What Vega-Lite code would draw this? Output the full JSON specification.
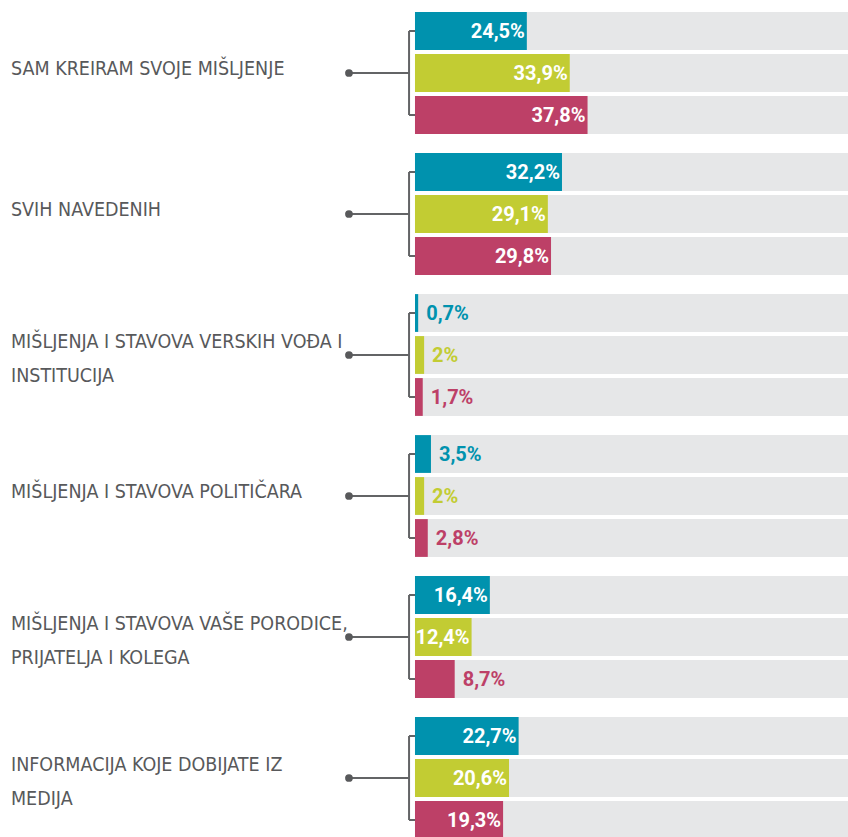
{
  "$schema": "https://vega.github.io/schema/vega-lite/v6.json",
  "background": "white",
  "padding": {"top": 10, "left": 0, "right": 0, "bottom": 0},
  "config": {"view": {"stroke": null}},
  "data": {"values": [
    {"group": "SAM KREIRAM SVOJE MIŠLJENJE", "series": "S1", "value": 24.5, "label": "24,5%"},
    {"group": "SAM KREIRAM SVOJE MIŠLJENJE", "series": "S2", "value": 33.9, "label": "33,9%"},
    {"group": "SAM KREIRAM SVOJE MIŠLJENJE", "series": "S3", "value": 37.8, "label": "37,8%"},
    {"group": "SVIH NAVEDENIH", "series": "S1", "value": 32.2, "label": "32,2%"},
    {"group": "SVIH NAVEDENIH", "series": "S2", "value": 29.1, "label": "29,1%"},
    {"group": "SVIH NAVEDENIH", "series": "S3", "value": 29.8, "label": "29,8%"},
    {"group": "MIŠLJENJA I STAVOVA VERSKIH VOĐA I\nINSTITUCIJA", "series": "S1", "value": 0.7, "label": "0,7%"},
    {"group": "MIŠLJENJA I STAVOVA VERSKIH VOĐA I\nINSTITUCIJA", "series": "S2", "value": 2, "label": "2%"},
    {"group": "MIŠLJENJA I STAVOVA VERSKIH VOĐA I\nINSTITUCIJA", "series": "S3", "value": 1.7, "label": "1,7%"},
    {"group": "MIŠLJENJA I STAVOVA POLITIČARA", "series": "S1", "value": 3.5, "label": "3,5%"},
    {"group": "MIŠLJENJA I STAVOVA POLITIČARA", "series": "S2", "value": 2, "label": "2%"},
    {"group": "MIŠLJENJA I STAVOVA POLITIČARA", "series": "S3", "value": 2.8, "label": "2,8%"},
    {"group": "MIŠLJENJA I STAVOVA VAŠE PORODICE,\nPRIJATELJA I KOLEGA", "series": "S1", "value": 16.4, "label": "16,4%"},
    {"group": "MIŠLJENJA I STAVOVA VAŠE PORODICE,\nPRIJATELJA I KOLEGA", "series": "S2", "value": 12.4, "label": "12,4%"},
    {"group": "MIŠLJENJA I STAVOVA VAŠE PORODICE,\nPRIJATELJA I KOLEGA", "series": "S3", "value": 8.7, "label": "8,7%"},
    {"group": "INFORMACIJA KOJE DOBIJATE IZ\nMEDIJA", "series": "S1", "value": 22.7, "label": "22,7%"},
    {"group": "INFORMACIJA KOJE DOBIJATE IZ\nMEDIJA", "series": "S2", "value": 20.6, "label": "20,6%"},
    {"group": "INFORMACIJA KOJE DOBIJATE IZ\nMEDIJA", "series": "S3", "value": 19.3, "label": "19,3%"}
  ]},
  "facet": {
    "row": {
      "field": "group",
      "sort": [
        "SAM KREIRAM SVOJE MIŠLJENJE",
        "SVIH NAVEDENIH",
        "MIŠLJENJA I STAVOVA VERSKIH VOĐA I\nINSTITUCIJA",
        "MIŠLJENJA I STAVOVA POLITIČARA",
        "MIŠLJENJA I STAVOVA VAŠE PORODICE,\nPRIJATELJA I KOLEGA",
        "INFORMACIJA KOJE DOBIJATE IZ\nMEDIJA"
      ],
      "header": null
    }
  },
  "spacing": {"row": 15},
  "resolve": {"scale": {"x": "shared", "y": "shared"}},
  "spec": {
    "width": 848,
    "height": 126,
    "encoding": {
      "y": {
        "field": "series", "type": "nominal", "axis": null,
        "scale": {"domain": ["S1", "S2", "S3"], "paddingInner": 0.1, "paddingOuter": 0.05}
      }
    },
    "layer": [
      {
        "mark": {"type": "bar", "color": "#E6E7E8", "cornerRadius": 0},
        "encoding": {
          "x": {"datum": 0, "type": "quantitative", "axis": null,
                "scale": {"domain": [-90.9, 94.85], "nice": false, "zero": false}},
          "x2": {"datum": 94.85}
        }
      },
      {
        "mark": {"type": "bar"},
        "encoding": {
          "x": {"field": "value", "type": "quantitative"},
          "x2": {"datum": 0},
          "color": {"field": "series", "type": "nominal", "legend": null,
                    "scale": {"domain": ["S1", "S2", "S3"], "range": ["#0092AE", "#C2CC33", "#BD4067"]}}
        }
      },
      {
        "transform": [{"filter": "datum.value >= 10"}],
        "mark": {"type": "text", "align": "right", "baseline": "middle", "dx": -2, "dy": 1,
                 "font": "Roboto, sans-serif", "fontWeight": "bold", "fontSize": 20, "fill": "white"},
        "encoding": {
          "x": {"field": "value", "type": "quantitative"},
          "text": {"field": "label"}
        }
      },
      {
        "transform": [{"filter": "datum.value < 10"}],
        "mark": {"type": "text", "align": "left", "baseline": "middle", "dx": 8, "dy": 1,
                 "font": "Roboto, sans-serif", "fontWeight": "bold", "fontSize": 20},
        "encoding": {
          "x": {"field": "value", "type": "quantitative"},
          "text": {"field": "label"},
          "color": {"field": "series", "type": "nominal", "legend": null}
        }
      },
      {
        "transform": [{"filter": "datum.series === 'S2'"}],
        "mark": {"type": "rule", "color": "#636466", "strokeWidth": 2},
        "encoding": {
          "x": {"datum": -1.3},
          "y": {"datum": "S1"},
          "y2": {"datum": "S3"}
        }
      },
      {
        "transform": [{"filter": "datum.series !== 'S2'"}],
        "mark": {"type": "rule", "color": "#636466", "strokeWidth": 2},
        "encoding": {
          "x": {"datum": -1.3},
          "x2": {"datum": 0}
        }
      },
      {
        "transform": [{"filter": "datum.series === 'S2'"}],
        "mark": {"type": "rule", "color": "#636466", "strokeWidth": 2},
        "encoding": {
          "x": {"datum": -14.46},
          "x2": {"datum": -1.3}
        }
      },
      {
        "transform": [{"filter": "datum.series === 'S2'"}],
        "mark": {"type": "point", "filled": true, "color": "#58595B", "size": 60, "opacity": 1},
        "encoding": {
          "x": {"datum": -14.46}
        }
      },
      {
        "transform": [{"filter": "datum.series === 'S2' && indexof(datum.group, '\\n') < 0"}],
        "mark": {"type": "text", "align": "left", "baseline": "middle", "dy": -4,
                 "font": "DejaVu Sans Condensed, sans-serif", "fontSize": 19.5, "color": "#58595B"},
        "encoding": {
          "x": {"datum": -88.5},
          "text": {"field": "group"}
        }
      },
      {
        "transform": [{"filter": "datum.series === 'S2' && indexof(datum.group, '\\n') >= 0"}],
        "mark": {"type": "text", "align": "left", "baseline": "middle", "dy": -13, "lineBreak": "\n", "lineHeight": 34,
                 "font": "DejaVu Sans Condensed, sans-serif", "fontSize": 19.5, "color": "#58595B"},
        "encoding": {
          "x": {"datum": -88.5},
          "text": {"field": "group"}
        }
      }
    ]
  }
}
